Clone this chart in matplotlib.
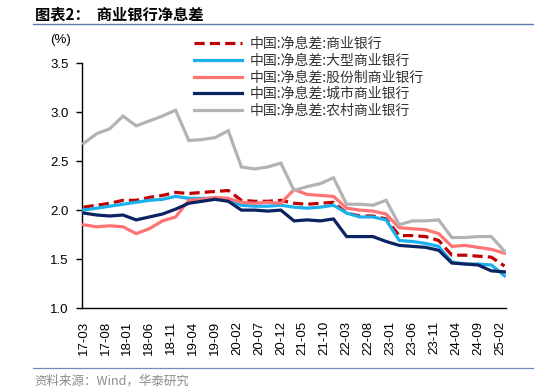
import matplotlib
matplotlib.use("Agg")
import matplotlib.pyplot as plt
from matplotlib.lines import Line2D

plt.rcParams['font.family'] = ['Liberation Sans', 'Noto Sans CJK SC', 'DejaVu Sans']

# quarterly data 2017Q1 .. 2025Q1, x = months since 2017-03
months = list(range(0, 97, 3))

commercial = [2.03, 2.05, 2.07, 2.10, 2.10, 2.13, 2.15, 2.18, 2.17, 2.18, 2.19, 2.20,
              2.10, 2.09, 2.09, 2.10, 2.07, 2.06, 2.07, 2.08, 1.97, 1.94, 1.94, 1.91,
              1.74, 1.74, 1.73, 1.69, 1.54, 1.54, 1.53, 1.52, 1.43]
large = [2.00, 2.02, 2.04, 2.06, 2.08, 2.10, 2.11, 2.14, 2.12, 2.12, 2.12, 2.10,
         2.05, 2.04, 2.04, 2.05, 2.03, 2.02, 2.03, 2.05, 1.97, 1.93, 1.93, 1.90,
         1.69, 1.68, 1.66, 1.63, 1.47, 1.45, 1.45, 1.44, 1.33]
joint_stock = [1.85, 1.83, 1.84, 1.83, 1.76, 1.81, 1.89, 1.93, 2.10, 2.11, 2.13, 2.12,
               2.08, 2.07, 2.08, 2.07, 2.21, 2.16, 2.15, 2.14, 2.02, 2.00, 1.99, 1.96,
               1.82, 1.81, 1.80, 1.76, 1.63, 1.64, 1.62, 1.60, 1.56]
city = [1.97, 1.95, 1.94, 1.95, 1.90, 1.93, 1.96, 2.01, 2.07, 2.09, 2.11, 2.09,
        2.00, 2.00, 1.99, 2.00, 1.89, 1.90, 1.89, 1.91, 1.73, 1.73, 1.73, 1.68,
        1.64, 1.63, 1.62, 1.59, 1.46, 1.45, 1.44, 1.38, 1.37]
rural = [2.68, 2.78, 2.83, 2.96, 2.86, 2.91, 2.96, 3.02, 2.71, 2.72, 2.74, 2.81,
         2.44, 2.42, 2.44, 2.48, 2.20, 2.24, 2.27, 2.33, 2.06, 2.06, 2.05, 2.10,
         1.85, 1.89, 1.89, 1.90, 1.72, 1.72, 1.73, 1.73, 1.58]

names = ["中国:净息差:商业银行", "中国:净息差:大型商业银行", "中国:净息差:股份制商业银行",
         "中国:净息差:城市商业银行", "中国:净息差:农村商业银行"]
colors = ["#C00000", "#1AB0EC", "#FF7373", "#0C2361", "#B3B3B3"]

tick_months = list(range(0, 96, 5))
tick_labels = ["17-03", "17-08", "18-01", "18-06", "18-11", "19-04", "19-09", "20-02",
               "20-07", "20-12", "21-05", "21-10", "22-03", "22-08", "23-01", "23-06",
               "23-11", "24-04", "24-09", "25-02"]

fig = plt.figure(figsize=(5.34, 3.92), dpi=100)
ax = fig.add_axes([0.154, 0.214, 0.794, 0.625])

series = [commercial, large, joint_stock, city, rural]
handles = []
for i, (vals, c) in enumerate(zip(series, colors)):
    ls = (0, (3.2, 1.6)) if i == 0 else '-'
    ln, = ax.plot(months, vals, color=c, lw=2.3, ls=ls, solid_joinstyle='miter',
                  zorder=2 + i)
    handles.append(ln)

ax.set_xlim(-0.3, 96.4)
ax.set_ylim(1.0, 3.5)
ax.set_yticks([1.0, 1.5, 2.0, 2.5, 3.0, 3.5])
ax.set_yticklabels(["1.0", "1.5", "2.0", "2.5", "3.0", "3.5"])
ax.set_xticks(tick_months)
ax.set_xticklabels(tick_labels, rotation=90)
ax.tick_params(axis='y', length=4, width=1, pad=6, labelsize=9.5, colors='black')
ax.tick_params(axis='x', length=0, pad=9, labelsize=9.5)
for s in ['top', 'right']:
    ax.spines[s].set_visible(False)
for s in ['left', 'bottom']:
    ax.spines[s].set_linewidth(1.0)
    ax.spines[s].set_color('black')

leg = ax.legend(handles, names, loc='upper left', bbox_to_anchor=(0.25, 1.13),
                frameon=False, handlelength=3.5, handletextpad=0.5,
                labelspacing=0.2, borderaxespad=0,
                prop={'family': ['Noto Sans CJK SC'], 'size': 10})
for t in leg.get_texts():
    t.set_color('#333333')

fig.text(0.113, 0.898, "(%)", ha='center', va='center', fontsize=9.5)

fig.text(0.065, 0.963, "图表2：  商业银行净息差", ha='left', va='center', fontsize=11,
         fontweight='bold', family=['Noto Sans CJK SC'])
fig.add_artist(Line2D([0.062, 1.0], [0.938, 0.938], color='#5B7DA8', lw=1.0))
fig.add_artist(Line2D([0.062, 1.0], [0.061, 0.061], color='#6F8FB8', lw=0.9))
fig.text(0.065, 0.028, "资料来源：Wind，华泰研究", ha='left', va='center', fontsize=9,
         color='#8C8C8C', family=['Noto Sans CJK SC', 'Liberation Sans'])

fig.savefig("out.png", dpi=100)
